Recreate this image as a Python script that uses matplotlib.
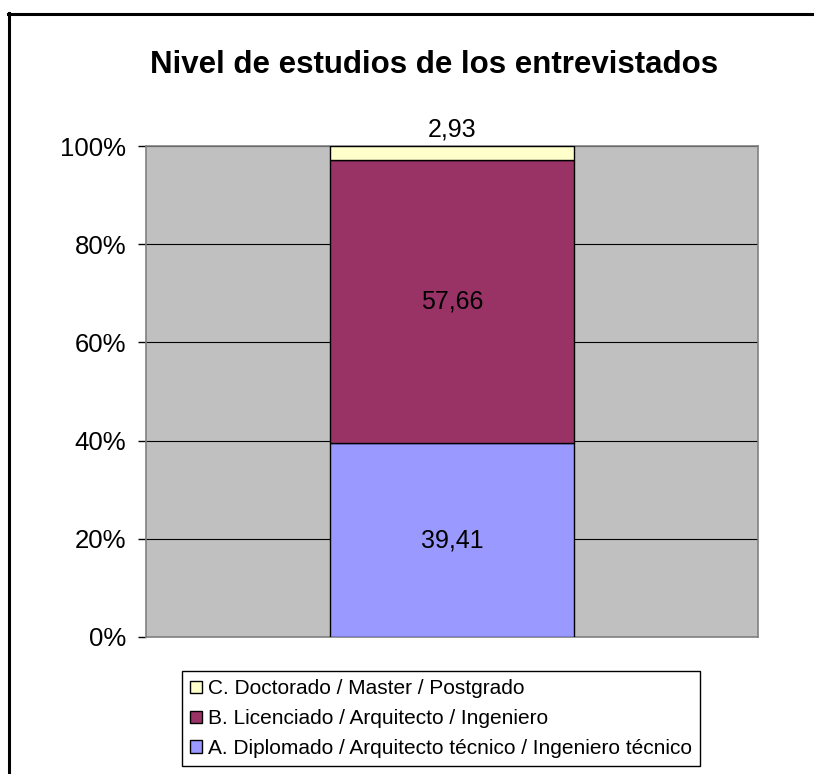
import numpy as np
import matplotlib
matplotlib.use("Agg")
import matplotlib.pyplot as plt
from matplotlib.patches import Rectangle
from matplotlib.lines import Line2D

plt.rcParams['font.family'] = ['Liberation Sans', 'DejaVu Sans']

# data
categories = ['A. Diplomado / Arquitecto técnico / Ingeniero técnico',
              'B. Licenciado / Arquitecto / Ingeniero',
              'C. Doctorado / Master / Postgrado']
values = [39.41, 57.66, 2.93]
colors = ['#9999FF', '#993366', '#FFFFCC']
yticks = [0, 20, 40, 60, 80, 100]
ytick_labels = ['0%', '20%', '40%', '60%', '80%', '100%']

W, H = 814, 774
fig = plt.figure(figsize=(W/100, H/100), dpi=100)
ax = fig.add_axes([146/W, 1-637/H, (758-146)/W, (637-146)/H])
ax.set_facecolor('#C0C0C0')

bottom = 0
for cat, v, c in zip(categories, values, colors):
    ax.bar(0, v, width=0.4, bottom=bottom, color=c, edgecolor='black',
           linewidth=1, label=cat, zorder=3)
    bottom += v

# data labels
ax.text(0, values[0]/2, '39,41', ha='center', va='center', fontsize=18, zorder=4)
ax.text(0, values[0] + values[1]/2, '57,66', ha='center', va='center', fontsize=18, zorder=4)
ax.text(0, 100 + 1.0, '2,93', ha='center', va='bottom', fontsize=18, zorder=4)

ax.set_xlim(-0.5, 0.5)
ax.set_ylim(0, 100)
ax.set_yticks(yticks)
ax.set_yticklabels(ytick_labels, fontsize=18.5)
ax.set_xticks([])
ax.tick_params(axis='y', length=5.8, width=1, color='black', pad=8.4, direction='out')
ax.yaxis.grid(True, color='black', linewidth=0.8, zorder=1)
ax.set_axisbelow(True)
for s in ax.spines.values():
    s.set_color('#808080')
    s.set_linewidth(1.2)

fig.text(434/W, 1-65/H, 'Nivel de estudios de los entrevistados',
         ha='center', va='center', fontsize=22.5, fontweight='bold')

# legend (reverse order)
handles = [Rectangle((0, 0), 1, 1, facecolor=c, edgecolor='black', linewidth=1)
           for c in colors][::-1]
leg = fig.legend(handles, categories[::-1], loc='upper left',
                 bbox_to_anchor=(182/W, 1-671/H), fontsize=15,
                 handlelength=0.55, handleheight=0.55, handletextpad=0.3,
                 borderpad=0.4, labelspacing=0.52, borderaxespad=0,
                 fancybox=False, framealpha=1, edgecolor='black')
leg.get_frame().set_linewidth(1)

# chart border (left and top)
fig.add_artist(Line2D([9/W, 9/W], [0, 1-13/H], color='black', linewidth=2.2,
                      transform=fig.transFigure))
fig.add_artist(Line2D([8/W, 1], [1-13.5/H, 1-13.5/H], color='black', linewidth=2.2,
                      transform=fig.transFigure))

fig.savefig('out.png', dpi=100)
